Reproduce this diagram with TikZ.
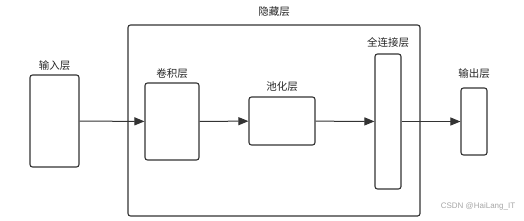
\documentclass[tikz,border=0pt]{standalone}
\usepackage{fontspec}
\setmainfont{Noto Sans CJK SC}
\newfontfamily\markfont{Liberation Sans}
\usetikzlibrary{positioning, arrows.meta}

\begin{document}
\begin{tikzpicture}[>={Triangle[length=10pt, width=8pt]}, x=1pt, y=-1pt,
    layer/.style={draw=black!80, line width=1.1pt, rounded corners=2.5pt, inner sep=0pt},
    layername/.style={inner sep=0pt, font=\fontsize{10.5}{12}\selectfont, text=black!85},
    flow/.style={->, draw=black!80, line width=1pt}]
    \useasboundingbox (0,0) rectangle (524,220);

    % 1. Các khối
    \node[layer, minimum width=292pt, minimum height=191pt] (hidden) at (274,120.5) {};
    \node[layer, minimum width=49pt, minimum height=92pt] (input) at (54.5,121) {};
    \node[layer, minimum width=54pt, minimum height=77pt] (conv) at (172,121.5) {};
    \node[layer, minimum width=66pt, minimum height=48pt] (pool) at (282,121) {};
    \node[layer, minimum width=26pt, minimum height=135pt] (fc) at (388,121.5) {};
    \node[layer, minimum width=26pt, minimum height=67pt] (output) at (474,121.5) {};

    % 2. Nhãn
    \node[layername, above=8pt of hidden] (hiddenname) {隐藏层};
    \node[layername, above=4pt of input] (inputname) {输入层};
    \node[layername, above=4pt of conv] (convname) {卷积层};
    \node[layername, above=5pt of pool] (poolname) {池化层};
    \node[layername, above=6pt of fc] (fcname) {全连接层};
    \node[layername, above=9pt of output] (outputname) {输出层};

    % 3. Mũi tên
    \draw[flow] (input) -- (conv);
    \draw[flow] (conv) -- (pool);
    \draw[flow] (pool) -- (fc);
    \draw[flow] (fc) -- (output);

    \node[inner sep=0pt, text=black!35, font=\markfont\fontsize{8}{9}\selectfont] (mark) at (478,206) {CSDN @HaiLang\_IT};
\end{tikzpicture}
\end{document}
